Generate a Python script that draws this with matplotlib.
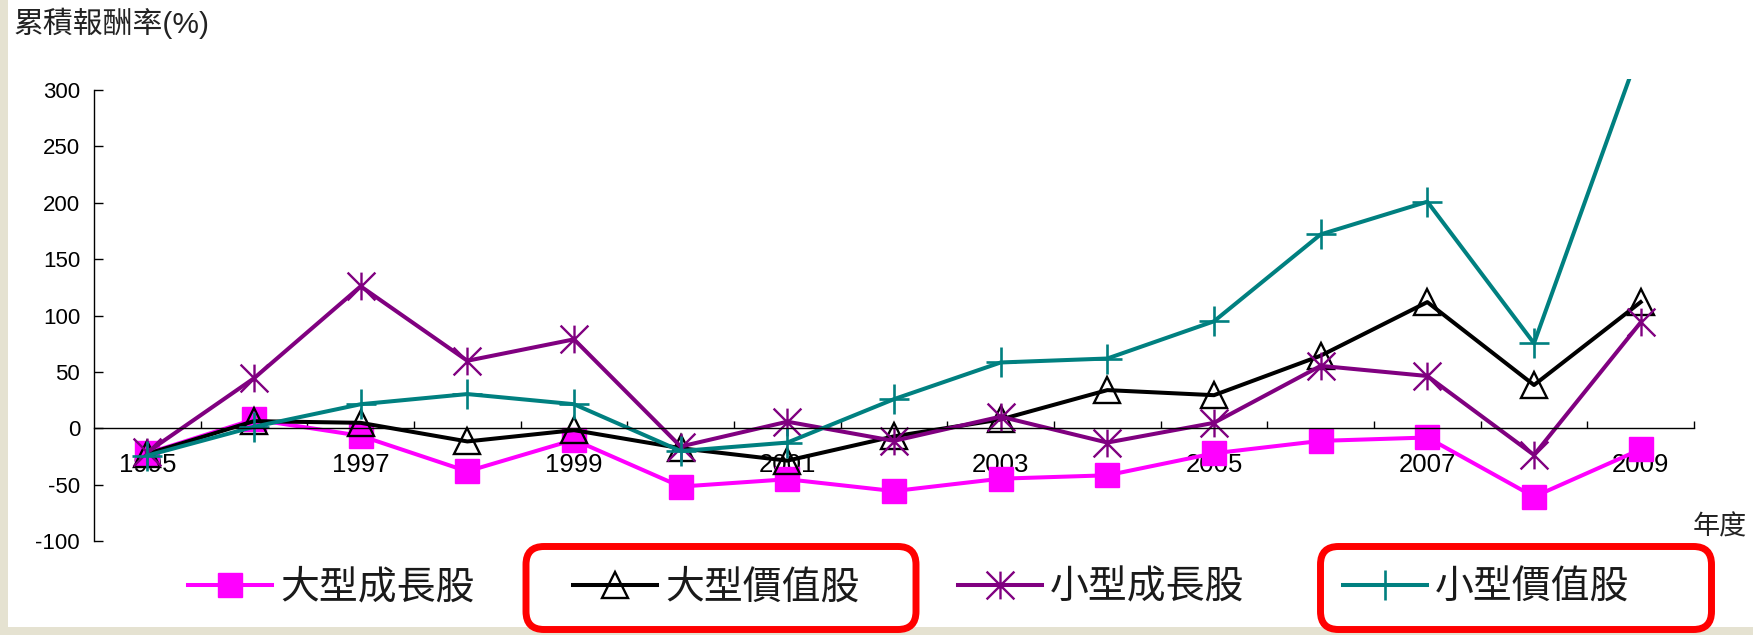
import matplotlib
matplotlib.use("Agg")
import matplotlib.pyplot as plt
from matplotlib.path import Path
from matplotlib.patches import FancyBboxPatch, Rectangle
from matplotlib.ticker import FixedLocator

# ---- data: cumulative return (%) by year ----
years = list(range(1995, 2010))
year_labels = ["1995", "1997", "1999", "2001", "2003", "2005", "2007", "2009"]
large_growth = [-22, 8, -6.5, -38, -10, -51.5, -45, -55.5, -44.5, -41.5, -22, -11, -8, -60.5, -18.5]
large_value = [-22.5, 6.5, 5, -11.5, -1.5, -17.5, -28.5, -7, 8, 34, 29.5, 64.5, 112, 38.5, 112]
small_growth = [-21, 44.5, 126, 60, 79, -16, 6, -11, 10.5, -12.5, 5, 55.5, 46.5, -23.5, 94]
small_value = [-24, 1.5, 21.5, 30.5, 21.5, -20, -12.5, 26, 58.5, 62, 95, 172, 201, 75.5, 338]
series_names = ["大型成長股", "大型價值股", "小型成長股", "小型價值股"]
yticks = [-100, -50, 0, 50, 100, 150, 200, 250, 300]

plt.rcParams["font.family"] = ["Liberation Sans", "Noto Sans CJK TC", "DejaVu Sans"]
plt.rcParams["axes.unicode_minus"] = False

W, H = 1753, 635
fig = plt.figure(figsize=(W / 100, H / 100), dpi=100, facecolor="#e5e2d1")

# white slide panel behind everything
fig.patches.append(Rectangle((8 / W, (H - 627) / H), 1 - 8 / W, 627 / H,
                             transform=fig.transFigure, facecolor="white",
                             edgecolor="none", zorder=-10))

ax = fig.add_axes([94 / W, 93.7 / H, 1600 / W, 462.6 / H])
ax.set_zorder(1)
ax.set_facecolor("none")
ax.set_xlim(1994.5, 2009.5)
ax.set_ylim(-100, 310)

# asterisk marker (X with a vertical bar)
star = Path([(0, -1), (0, 1), (-1, -1), (1, 1), (-1, 1), (1, -1)],
            [Path.MOVETO, Path.LINETO] * 3)

lw = 2.9
l1, = ax.plot(years, large_growth, color="#ff00ff", lw=lw, marker="s",
              ms=17, mfc="#ff00ff", mec="#ff00ff", label=series_names[0])
l2, = ax.plot(years, large_value, color="black", lw=lw, marker="^",
              ms=19, mfc="none", mec="black", mew=1.7, label=series_names[1])
l3, = ax.plot(years, small_growth, color="#800080", lw=lw, marker=star,
              ms=20, mfc="none", mec="#800080", mew=1.7, label=series_names[2])
l4, = ax.plot(years, small_value, color="#008080", lw=lw, marker="+",
              ms=22, mec="#008080", mew=1.9, label=series_names[3])

# axes styling
for s in ("top", "right"):
    ax.spines[s].set_visible(False)
ax.spines["left"].set_bounds(-100, 300)
ax.spines["bottom"].set_position(("data", 0))
ax.spines["bottom"].set_bounds(1994.5, 2009.5)
for s in ("left", "bottom"):
    ax.spines[s].set_linewidth(1.0)
    ax.spines[s].set_color("black")

ax.set_yticks(yticks)
ax.tick_params(axis="y", direction="in", length=6.3, width=1.0, pad=10,
               labelsize=16, labelcolor="black")

label_pos = [int(y) for y in year_labels]
ax.xaxis.set_major_locator(FixedLocator(label_pos))
ax.set_xticklabels(year_labels)
ax.xaxis.set_minor_locator(FixedLocator([y + 0.5 for y in years]))
ax.tick_params(axis="x", which="major", length=0, pad=18, labelsize=18.5,
               labelcolor="black")
ax.tick_params(axis="x", which="minor", direction="in", length=5, width=1.0)

# axis titles
fig.text(14 / W, 1 - 23 / H, "累積報酬率(%)", fontsize=21.5, color="#222222",
         ha="left", va="center")
fig.text(1720 / W, 1 - 527 / H, "年度", fontsize=19.5, color="#222222",
         ha="center", va="center")

# legend along the bottom
fs = 28
em = fs * 100 / 72
leg = fig.legend(handles=[l1, l2, l3, l4], loc="center left",
                 bbox_to_anchor=(188 / W, 1 - 588 / H), ncol=4, frameon=False,
                 fontsize=fs, handlelength=84 / em, handletextpad=8 / em,
                 columnspacing=(385 - 84 - 8 - 5 * em) / em, borderpad=0,
                 borderaxespad=0, numpoints=1)
for t in leg.get_texts():
    t.set_color("#1a1a1a")

# red highlight frames around the value-stock entries
for x0, x1 in [(526, 916), (1320.5, 1711.5)]:
    fig.patches.append(FancyBboxPatch((x0, H - 629.5), x1 - x0, 629.5 - 546.5,
                                      boxstyle="round,pad=0,rounding_size=18",
                                      transform=None, facecolor="none",
                                      edgecolor="#ff0000", lw=5.0, zorder=5))

fig.savefig("out.png", dpi=100, facecolor=fig.get_facecolor())
